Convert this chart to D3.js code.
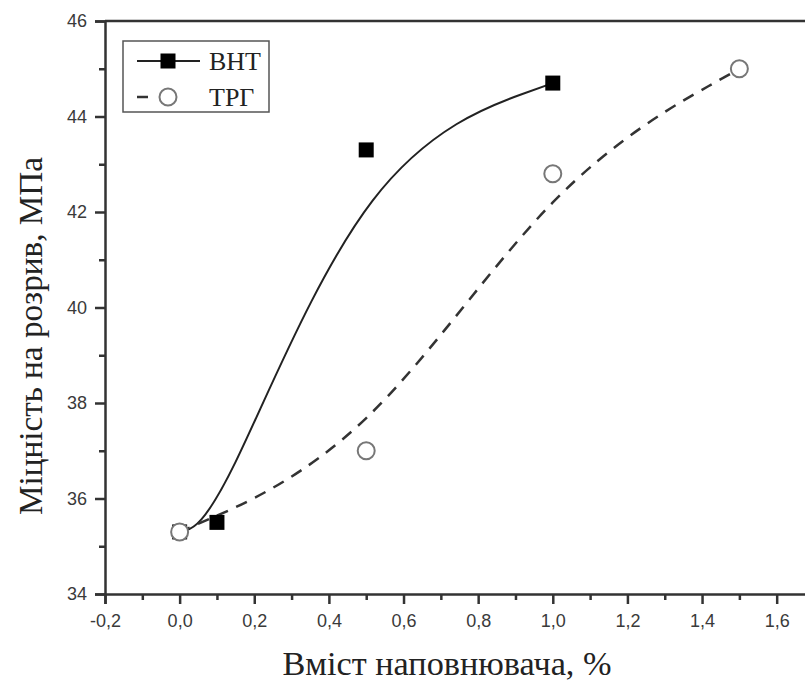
<!DOCTYPE html>
<html>
<head>
<meta charset="utf-8">
<script src="https://cdn.jsdelivr.net/npm/d3@7"></script>
<style>
    body { margin: 0; background: #fff; }
    svg { display: block; }
</style>
</head>
<body>
<div id="root"></div>
<script>
// data
const bhtX = [0.0, 0.1, 0.5, 1.0];
const bhtY = [35.3, 35.5, 43.3, 44.7];
const trgX = [0.0, 0.5, 1.0, 1.5];
const trgY = [35.3, 37.0, 42.8, 45.0];
const seriesNames = ['ВНТ', 'ТРГ'];
const xTicks = [-0.2, 0.0, 0.2, 0.4, 0.6, 0.8, 1.0, 1.2, 1.4, 1.6];
const xMinorTicks = [-0.1, 0.1, 0.3, 0.5, 0.7, 0.9, 1.1, 1.3, 1.5];
const yTicks = [34, 36, 38, 40, 42, 44, 46];
const yMinorTicks = [35, 37, 39, 41, 43, 45];

const width = 805;
const height = 684;
const margin = { top: 21, right: -9, bottom: 90, left: 105 };

const serif = 'Liberation Serif, serif';
const sans = 'Liberation Sans, sans-serif';
const axisColor = '#333';

const svg = d3.select('#root')
    .append('svg')
    .attr('width', width)
    .attr('height', height);

const x = d3.scaleLinear()
    .domain([-0.2, 1.7])
    .range([margin.left, width - margin.right]);

const y = d3.scaleLinear()
    .domain([34, 46])
    .range([height - margin.bottom, margin.top]);

// top frame line
svg.append('line')
    .attr('x1', x(-0.2))
    .attr('x2', x(1.7))
    .attr('y1', y(46))
    .attr('y2', y(46))
    .attr('stroke', axisColor)
    .attr('stroke-width', 2.5);

const fmt = d => d3.format('.1f')(d).replace('.', ',').replace('−', '-');

const xAxis = svg.append('g')
    .attr('transform', `translate(0,${y(34)})`)
    .call(d3.axisBottom(x).tickValues(xTicks).tickFormat(fmt).tickSize(10).tickPadding(10));

const xMinor = svg.append('g')
    .attr('transform', `translate(0,${y(34)})`)
    .call(d3.axisBottom(x).tickValues(xMinorTicks).tickFormat('').tickSize(6));

const yAxis = svg.append('g')
    .attr('transform', `translate(${x(-0.2)},0)`)
    .call(d3.axisLeft(y).tickValues(yTicks).tickFormat(d3.format('d')).tickSize(10).tickPadding(8));

const yMinor = svg.append('g')
    .attr('transform', `translate(${x(-0.2)},0)`)
    .call(d3.axisLeft(y).tickValues(yMinorTicks).tickFormat('').tickSize(6));

[xAxis, xMinor, yAxis, yMinor].forEach(g => {
    g.select('.domain').attr('stroke', axisColor).attr('stroke-width', 2.5);
    g.selectAll('.tick line').attr('stroke', axisColor).attr('stroke-width', 2.5);
    g.selectAll('.tick text')
        .attr('fill', '#3a3a3a')
        .attr('font-family', sans)
        .attr('font-size', 18);
});
xMinor.select('.domain').remove();
yMinor.select('.domain').remove();

// axis titles
svg.append('text')
    .attr('x', 447)
    .attr('y', 675)
    .attr('text-anchor', 'middle')
    .attr('fill', '#222')
    .attr('font-family', serif)
    .attr('font-size', 33)
    .attr('textLength', 329)
    .attr('lengthAdjust', 'spacingAndGlyphs')
    .text('Вміст наповнювача, %');

svg.append('text')
    .attr('transform', 'translate(42,336) rotate(-90)')
    .attr('text-anchor', 'middle')
    .attr('fill', '#222')
    .attr('font-family', serif)
    .attr('font-size', 33)
    .attr('textLength', 358)
    .attr('lengthAdjust', 'spacingAndGlyphs')
    .text('Міцність на розрив, МПа');

// curves
const bht = bhtX.map((d, i) => ({ x: d, y: bhtY[i] }));
const trg = trgX.map((d, i) => ({ x: d, y: trgY[i] }));

const line = d3.line()
    .x(d => x(d.x))
    .y(d => y(d.y))
    .curve(d3.curveBasis);

svg.append('path')
    .datum(bht)
    .attr('d', line)
    .attr('fill', 'none')
    .attr('stroke', '#222')
    .attr('stroke-width', 2);

svg.append('path')
    .datum(trg)
    .attr('d', line)
    .attr('fill', 'none')
    .attr('stroke', '#333')
    .attr('stroke-width', 2.5)
    .attr('stroke-dasharray', '12,9')
    .attr('stroke-dashoffset', -20);

// markers
const sq = 15;
svg.selectAll('rect.bht')
    .data(bht)
    .join('rect')
    .attr('class', 'bht')
    .attr('x', d => x(d.x) - sq / 2)
    .attr('y', d => y(d.y) - sq / 2)
    .attr('width', sq)
    .attr('height', sq)
    .attr('fill', '#000');

svg.selectAll('circle.trg')
    .data(trg)
    .join('circle')
    .attr('class', 'trg')
    .attr('cx', d => x(d.x))
    .attr('cy', d => y(d.y))
    .attr('r', 8.5)
    .attr('fill', '#fff')
    .attr('stroke', '#777')
    .attr('stroke-width', 2);

// legend
const legend = svg.append('g');
legend.append('rect')
    .attr('x', 123)
    .attr('y', 41)
    .attr('width', 146)
    .attr('height', 71)
    .attr('fill', '#fff')
    .attr('stroke', '#555')
    .attr('stroke-width', 1.5);

legend.append('line')
    .attr('x1', 137).attr('x2', 200)
    .attr('y1', 61).attr('y2', 61)
    .attr('stroke', '#222')
    .attr('stroke-width', 2);
legend.append('rect')
    .attr('x', 168 - sq / 2)
    .attr('y', 61 - sq / 2)
    .attr('width', sq)
    .attr('height', sq)
    .attr('fill', '#000');

legend.append('line')
    .attr('x1', 137).attr('x2', 148)
    .attr('y1', 97).attr('y2', 97)
    .attr('stroke', '#333')
    .attr('stroke-width', 2.5);
legend.append('circle')
    .attr('cx', 168)
    .attr('cy', 97)
    .attr('r', 8.5)
    .attr('fill', '#fff')
    .attr('stroke', '#777')
    .attr('stroke-width', 2);

legend.selectAll('text.name')
    .data(seriesNames)
    .join('text')
    .attr('class', 'name')
    .attr('x', 209)
    .attr('y', (d, i) => 70 + i * 36)
    .attr('fill', '#222')
    .attr('font-family', serif)
    .attr('font-size', 26)
    .text(d => d);
</script>
</body>
</html>
